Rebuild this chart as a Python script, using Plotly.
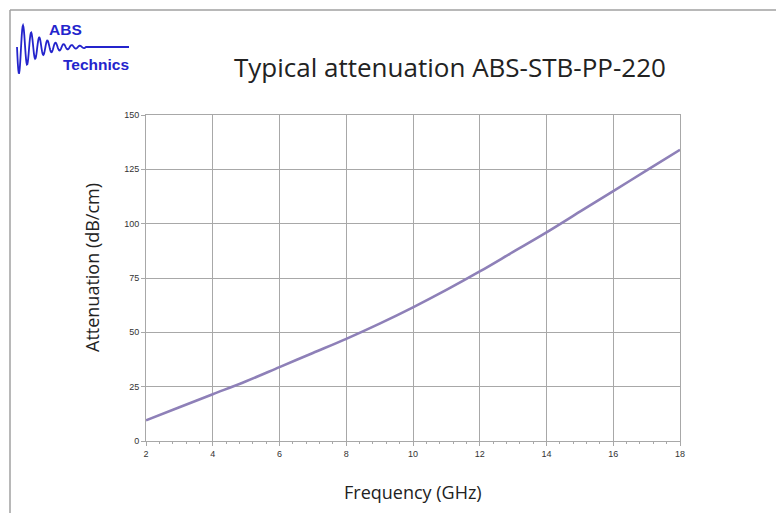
import plotly.graph_objects as go
import math

freq_ghz = [2, 3, 4, 5, 6, 7, 8, 9, 10, 11, 12, 13, 14, 15, 16, 17, 18]
atten_db_cm = [9.5, 15.5, 21.5, 27.5, 34, 40.5, 47, 54, 61.5, 69.5, 78, 87, 96, 105.5, 115, 124.5, 134]
x_ticks = [2, 4, 6, 8, 10, 12, 14, 16, 18]
y_ticks = [0, 25, 50, 75, 100, 125, 150]

OFF = 8  # page body margin
W, H = 784 - 2 * OFF, 521 - 2 * OFF
L, T = 146 - OFF, 115 - OFF
R = W - (680 - OFF)
B = H - (441 - OFF)
PW, PH = W - L - R, H - T - B

def px(x):
    return (x - OFF - L) / PW

def py(y):
    return (H - B - (y - OFF)) / PH

fig = go.Figure()
fig.add_trace(go.Scatter(
    x=freq_ghz, y=atten_db_cm, mode="lines",
    line=dict(color="#8e80b8", width=2.6, shape="spline"),
    showlegend=False, hoverinfo="skip"))

# logo wave path (decoration)
pts = []
n = 160
for i in range(n + 1):
    xx = 17 + (86 - 17) * i / n
    t = (xx - 17) / (86 - 17)
    amp = 29 * math.exp(-3.4 * t)
    yy = 47 + amp * math.sin(2 * math.pi * 8.5 * t)
    pts.append((px(xx), py(yy)))
pts.append((px(129), py(47)))
path = "M " + " L ".join(f"{a:.5f},{b:.5f}" for a, b in pts)

shapes = [
    dict(type="path", path=path, xref="paper", yref="paper",
         line=dict(color="#2424cc", width=1.8)),
    dict(type="line", xref="paper", yref="paper", x0=px(10), x1=px(784), y0=py(10), y1=py(10),
         line=dict(color="#a0a0a0", width=1.5)),
    dict(type="line", xref="paper", yref="paper", x0=px(10), x1=px(10), y0=py(10), y1=py(521),
         line=dict(color="#a0a0a0", width=1.5)),
]

annotations = [
    dict(text="<b>ABS</b>", xref="paper", yref="paper", x=px(47), y=py(30), xanchor="left", yanchor="middle",
         showarrow=False, font=dict(family="Liberation Sans, Arial", size=15.5, color="#2424cc")),
    dict(text="<b>Technics</b>", xref="paper", yref="paper", x=px(61), y=py(64), xanchor="left", yanchor="middle",
         showarrow=False, font=dict(family="Liberation Sans, Arial", size=15.5, color="#2424cc")),
    dict(text="Typical attenuation ABS-STB-PP-220", xref="paper", yref="paper", x=px(450), y=py(67),
         xanchor="center", yanchor="middle", showarrow=False,
         font=dict(family="Open Sans, Noto Sans", size=26, color="#222222")),
    dict(text="Frequency (GHz)", xref="paper", yref="paper", x=px(413), y=py(492),
         xanchor="center", yanchor="middle", showarrow=False,
         font=dict(family="Open Sans, Noto Sans", size=18, color="#222222")),
    dict(text="Attenuation (dB/cm)", xref="paper", yref="paper", x=px(92), y=py(268),
         xanchor="center", yanchor="middle", showarrow=False, textangle=-90,
         font=dict(family="Open Sans, Noto Sans", size=18, color="#222222")),
]

fig.update_layout(
    width=W, height=H,
    margin=dict(l=L, r=R, t=T, b=B),
    paper_bgcolor="white", plot_bgcolor="white",
    shapes=shapes, annotations=annotations,
    xaxis=dict(range=[2, 18], tickvals=x_ticks, showgrid=True, gridcolor="#a8a8a8", gridwidth=1,
               showline=True, linecolor="#a8a8a8", mirror=True, ticks="outside", ticklen=4,
               tickcolor="#a8a8a8", tickfont=dict(family="Liberation Sans, Arial", size=9, color="#333333"),
               minor=dict(dtick=0.4, ticks="outside", ticklen=2, tickcolor="#a8a8a8", showgrid=False),
               zeroline=False),
    yaxis=dict(range=[0, 150], tickvals=y_ticks, showgrid=True, gridcolor="#a8a8a8", gridwidth=1,
               showline=True, linecolor="#a8a8a8", mirror=True, ticks="outside", ticklen=4,
               tickcolor="#a8a8a8", tickfont=dict(family="Liberation Sans, Arial", size=9, color="#333333"),
               zeroline=False),
)

fig.write_html("out.html")
